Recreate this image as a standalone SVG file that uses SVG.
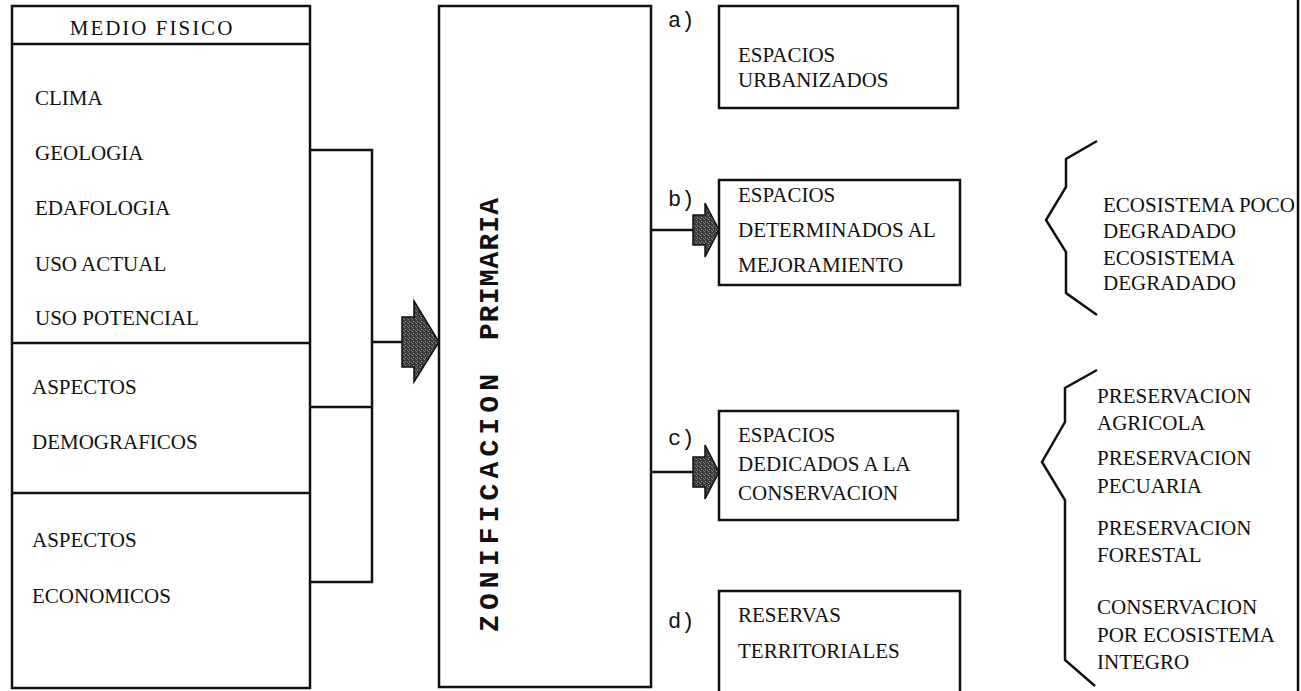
<svg xmlns="http://www.w3.org/2000/svg" width="1301" height="691" viewBox="0 0 1301 691">
<defs>
<pattern id="grain" width="4" height="4" patternUnits="userSpaceOnUse">
<rect width="4" height="4" fill="#3a3a3a"/>
<rect x="1" y="1" width="1" height="1" fill="#9a9a9a"/>
<rect x="3" y="2" width="1" height="1" fill="#777"/>
<rect x="0" y="3" width="1" height="1" fill="#888"/>
</pattern>
</defs>
<style>
.box{fill:none;stroke:#111;stroke-width:2.5}
.ln{fill:none;stroke:#111;stroke-width:2.5}
.t{font-family:"Liberation Serif","Times New Roman",serif;font-size:21px;fill:#111}
.lab{font-family:"Liberation Mono","Courier New",monospace;font-size:22px;fill:#111}
.vt{font-family:"Liberation Mono","Courier New",monospace;font-size:28px;font-weight:bold;fill:#111}
.arr{fill:url(#grain);stroke:#111;stroke-width:1.5}
</style>
<rect width="1301" height="691" fill="#fff"/>
<g id="medio-fisico">
<rect class="box" x="12" y="6" width="298" height="682"/>
<line class="ln" x1="12" y1="44" x2="310" y2="44"/>
<line class="ln" x1="12" y1="343" x2="310" y2="343"/>
<line class="ln" x1="12" y1="493" x2="310" y2="493"/>
<text class="t" x="152" y="35" text-anchor="middle" letter-spacing="2">MEDIO FISICO</text>
<text class="t" x="35" y="105">CLIMA</text>
<text class="t" x="35" y="160">GEOLOGIA</text>
<text class="t" x="35" y="215">EDAFOLOGIA</text>
<text class="t" x="35" y="271">USO ACTUAL</text>
<text class="t" x="35" y="325">USO POTENCIAL</text>
<text class="t" x="32" y="394">ASPECTOS</text>
<text class="t" x="32" y="449">DEMOGRAFICOS</text>
<text class="t" x="32" y="547">ASPECTOS</text>
<text class="t" x="32" y="603">ECONOMICOS</text>
</g>
<g id="connectors">
<polyline class="ln" points="310,150 372,150 372,582 310,582"/>
<line class="ln" x1="310" y1="407" x2="373" y2="407"/>
<line class="ln" x1="372" y1="342" x2="403" y2="342"/>
<polygon class="arr" points="402,317 414,317 414,301 439,342 414,382 414,367 402,367"/>
<line class="ln" x1="651" y1="230" x2="693" y2="230"/>
<polygon class="arr" points="693,215 705,215 705,203 719,230 705,257 705,245 693,245"/>
<line class="ln" x1="651" y1="472" x2="693" y2="472"/>
<polygon class="arr" points="693,457 705,457 705,445 719,472 705,499 705,487 693,487"/>
</g>
<g id="zonificacion">
<rect class="box" x="439" y="6" width="212" height="681"/>
<text class="vt" transform="translate(498,632) rotate(-90)" textLength="258" lengthAdjust="spacing">ZONIFICACION</text>
<text class="vt" transform="translate(498,340) rotate(-90)" textLength="142" lengthAdjust="spacing">PRIMARIA</text>
</g>
<g id="a-urbanizados">
<text class="lab" x="668" y="27">a)</text>
<rect class="box" x="719" y="6" width="239" height="102"/>
<text class="t" x="738" y="62">ESPACIOS</text>
<text class="t" x="738" y="87">URBANIZADOS</text>
</g>
<g id="b-mejoramiento">
<text class="lab" x="668" y="206">b)</text>
<rect class="box" x="719" y="180" width="241" height="105"/>
<text class="t" x="738" y="202">ESPACIOS</text>
<text class="t" x="738" y="237">DETERMINADOS AL</text>
<text class="t" x="738" y="272">MEJORAMIENTO</text>
</g>
<g id="c-conservacion">
<text class="lab" x="668" y="445">c)</text>
<rect class="box" x="719" y="411" width="239" height="109"/>
<text class="t" x="738" y="442">ESPACIOS</text>
<text class="t" x="738" y="471">DEDICADOS A LA</text>
<text class="t" x="738" y="500">CONSERVACION</text>
</g>
<g id="d-reservas">
<text class="lab" x="668" y="628">d)</text>
<polyline class="ln" points="719,693 719,591 960,591 960,693"/>
<text class="t" x="738" y="622">RESERVAS</text>
<text class="t" x="738" y="658">TERRITORIALES</text>
</g>
<g id="brace-mejoramiento">
<polyline class="ln" points="1097,141 1066,159 1066,187 1046,220 1066,252 1066,293 1097,315"/>
<text class="t" x="1103" y="212">ECOSISTEMA POCO</text>
<text class="t" x="1103" y="238">DEGRADADO</text>
<text class="t" x="1103" y="265">ECOSISTEMA</text>
<text class="t" x="1103" y="290">DEGRADADO</text>
</g>
<g id="brace-conservacion">
<polyline class="ln" points="1097,370 1065,388 1065,422 1042,462 1065,500 1065,660 1095,686"/>
<text class="t" x="1097" y="403">PRESERVACION</text>
<text class="t" x="1097" y="430">AGRICOLA</text>
<text class="t" x="1097" y="465">PRESERVACION</text>
<text class="t" x="1097" y="493">PECUARIA</text>
<text class="t" x="1097" y="535">PRESERVACION</text>
<text class="t" x="1097" y="562">FORESTAL</text>
<text class="t" x="1097" y="614">CONSERVACION</text>
<text class="t" x="1097" y="642">POR ECOSISTEMA</text>
<text class="t" x="1097" y="669">INTEGRO</text>
</g>
<line class="ln" x1="1298" y1="0" x2="1298" y2="691" stroke-width="3"/>
</svg>
